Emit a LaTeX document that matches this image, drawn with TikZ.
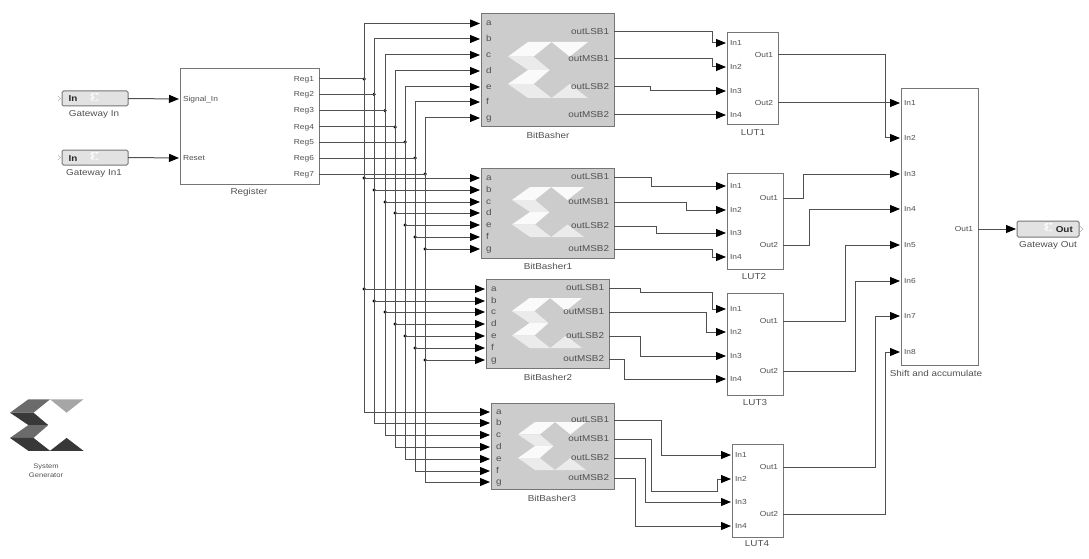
\documentclass[tikz,border=0pt]{standalone}
\usepackage{fontspec}
\setmainfont{Liberation Sans}[FakeStretch=1.15]
\usetikzlibrary{arrows.meta,calc}
\definecolor{edge}{HTML}{757575}
\definecolor{wirec}{HTML}{505050}
\definecolor{txt}{HTML}{505050}
\definecolor{blockfill}{HTML}{CCCCCC}
\definecolor{gwfill}{HTML}{E2E2E2}
\tikzset{
  wire/.style={draw=wirec,line width=1pt,-{Triangle[length=10pt,width=8pt,black]},shorten >=1pt},
  busline/.style={draw=wirec,line width=1pt},
  subsys/.style={draw=edge,line width=1pt,fill=white,anchor=north west,inner sep=0,outer sep=0},
  basher/.style={subsys,fill=blockfill},
  gateway/.style={draw=edge,line width=1pt,fill=gwfill,rounded corners=1.5pt,anchor=north west,inner sep=0,outer sep=0},
  ptl/.style={anchor=west,inner xsep=3pt,inner ysep=0,outer sep=0,text=txt,font=\fontsize{7.3}{8}\selectfont,text height=5.5pt,text depth=1pt},
  ptr/.style={ptl,anchor=east,inner xsep=5pt},
  bpl/.style={ptl,inner xsep=5pt,font=\fontsize{8.6}{9}\selectfont,text height=6.5pt,text depth=1.5pt},
  bpr/.style={bpl,anchor=east},
  blocklabel/.style={inner sep=0,text=txt,font=\fontsize{8.6}{10}\selectfont},
  jdot/.style={circle,fill=black,inner sep=0,minimum size=3.5pt,outer sep=0},
  gwtxt/.style={inner sep=0,font=\bfseries\fontsize{8.6}{9}\selectfont,text=black!85}
}
% one elbow: from, x of the vertical run, to
\newcommand{\elbow}[3]{\path[wire] let \p1=(#1),\p2=(#3) in (\p1) -- (#2pt,\y1) -- (#2pt,\y2) -- (\p2);}
% two elbows: from, x1, y of the middle run, x2, to
\newcommand{\jog}[5]{\path[wire] let \p1=(#1),\p2=(#5) in (\p1) -- (#2pt,\y1) -- (#2pt,-#3pt) -- (#4pt,-#3pt) -- (#4pt,\y2) -- (\p2);}
% logo: x0,y0,w,h, colours A B E
\newcommand{\xlogo}[7]{%
\begin{scope}[shift={(#1,#2)},x=#3pt,y=-#4pt]
\fill[#5] (0,.26)--(.25,0)--(.545,0)--(.32,.26)--cycle;
\fill[#6] (0,.26)--(.32,.26)--(.52,.5)--(.25,.5)--cycle;
\fill[#5] (0,.75)--(.25,.5)--(.52,.5)--(.32,.75)--cycle;
\fill[#6] (0,.75)--(.32,.75)--(.545,1)--(.25,1)--cycle;
\fill[#7] (.545,0)--(1,0)--(.77,.26)--cycle;
\fill[#6] (.77,.75)--(1,1)--(.545,1)--cycle;
\end{scope}}
\begin{document}
\begin{tikzpicture}[x=1pt,y=-1pt]
\useasboundingbox (0,0) rectangle (1089,559);
% Gateways
\node[gateway,minimum width=66pt,minimum height=15pt] (gi0) at (62,91) {};
\node[gateway,minimum width=66pt,minimum height=15pt] (gi1) at (62,150) {};
\node[gateway,minimum width=62pt,minimum height=16pt] (go) at (1017,221) {};
\xlogo{90}{93}{9}{8}{white!85!gwfill}{white!60!gwfill}{white!85!gwfill}
\xlogo{90}{152}{9}{8}{white!85!gwfill}{white!60!gwfill}{white!85!gwfill}
\xlogo{1044}{223}{9}{8}{white!85!gwfill}{white!60!gwfill}{white!85!gwfill}
\node[gwtxt,anchor=west] (gi0t) at (68.5,99) {In};
\node[gwtxt,anchor=west] (gi1t) at (68.5,158.5) {In};
\node[gwtxt,anchor=east] (got) at (1073,230) {Out};
\draw[gray!60,line width=.5pt] (58,96)--(60.5,98.5)--(58,101) (58,155)--(60.5,157.5)--(58,160) (1080,226)--(1083,229)--(1080,232);
\node[blocklabel] (gi0c) at (94,114) {Gateway In};
\node[blocklabel] (gi1c) at (94,173.5) {Gateway In1};
\node[blocklabel] (goc) at (1048,245) {Gateway Out};
% Register
\node[subsys,minimum width=139pt,minimum height=115pt] (reg) at (180,69) {};
\node[blocklabel] (regc) at (249,192) {Register};
\node[ptl] (rsig) at (180,99) {Signal\_In};
\node[ptl] (rrst) at (180,158) {Reset};
\foreach \n/\y in {1/79,2/94.3,3/110.7,4/127,5/142,6/158,7/174}
  \node[ptr] (r\n) at (319,\y) {Reg\n};
% BitBashers
\node[basher,minimum width=133pt,minimum height=113pt] (bb0) at (481,14) {};
\node[basher,minimum width=133pt,minimum height=90pt] (bb1) at (481,168) {};
\node[basher,minimum width=123pt,minimum height=89pt] (bb2) at (486,279) {};
\node[basher,minimum width=123pt,minimum height=86pt] (bb3) at (491,403) {};
\xlogo{508}{42}{80}{56}{white!90!blockfill}{white!60!blockfill}{white!90!blockfill}
\xlogo{512}{187}{72}{50}{white!90!blockfill}{white!60!blockfill}{white!90!blockfill}
\xlogo{512}{298}{70}{50}{white!90!blockfill}{white!60!blockfill}{white!90!blockfill}
\xlogo{518}{422}{68}{48}{white!90!blockfill}{white!60!blockfill}{white!90!blockfill}
\node[blocklabel] (bb0c) at (548,135) {BitBasher};
\node[blocklabel] (bb1c) at (548,266) {BitBasher1};
\node[blocklabel] (bb2c) at (548,377) {BitBasher2};
\node[blocklabel] (bb3c) at (552,498) {BitBasher3};
\foreach \p/\y in {a/23.5,b/39,c/55,d/71,e/87,f/102,g/118} \node[bpl] (bb0\p) at (481,\y) {\p};
\foreach \p/\y in {a/178,b/190,c/202,d/213,e/225,f/237,g/249} \node[bpl] (bb1\p) at (481,\y) {\p};
\foreach \p/\y in {a/289,b/301,c/312,d/324,e/336,f/348,g/360} \node[bpl] (bb2\p) at (486,\y) {\p};
\foreach \p/\y in {a/412,b/423,c/435,d/447,e/459,f/471,g/482} \node[bpl] (bb3\p) at (491,\y) {\p};
\foreach \b/\x/\ya/\yb/\yc/\yd in {bb0/614/32/59/87/115,bb1/614/177/202/226/249,bb2/609/288/312/336/359,bb3/614/420/439/458/478}{
  \node[bpr] (\b o1) at (\x,\ya) {outLSB1};
  \node[bpr] (\b o2) at (\x,\yb) {outMSB1};
  \node[bpr] (\b o3) at (\x,\yc) {outLSB2};
  \node[bpr] (\b o4) at (\x,\yd) {outMSB2};
}
% LUTs
\node[subsys,minimum width=51pt,minimum height=92pt] (lut1) at (727,33) {};
\node[subsys,minimum width=56pt,minimum height=96pt] (lut2) at (727,173) {};
\node[subsys,minimum width=56pt,minimum height=102pt] (lut3) at (727,293) {};
\node[subsys,minimum width=51pt,minimum height=93pt] (lut4) at (732,444) {};
\node[blocklabel] (lut1c) at (753,133) {LUT1};
\node[blocklabel] (lut2c) at (754,277) {LUT2};
\node[blocklabel] (lut3c) at (755,403) {LUT3};
\node[blocklabel] (lut4c) at (757,544) {LUT4};
\foreach \b/\xl/\xr/\ya/\yb/\yc/\yd/\oa/\ob in {1/727/778/43/67/91/115/55/103,2/727/783/186/210/233/257/198/245,3/727/783/309/332/356/379/321/371,4/732/783/455/479/502/526/467/514}{
  \node[ptl] (l\b i1) at (\xl,\ya) {In1};
  \node[ptl] (l\b i2) at (\xl,\yb) {In2};
  \node[ptl] (l\b i3) at (\xl,\yc) {In3};
  \node[ptl] (l\b i4) at (\xl,\yd) {In4};
  \node[ptr] (l\b o1) at (\xr,\oa) {Out1};
  \node[ptr] (l\b o2) at (\xr,\ob) {Out2};
}
% Shift and accumulate
\node[subsys,minimum width=77pt,minimum height=276pt] (sa) at (901,89) {};
\node[blocklabel] (sac) at (936,373) {Shift and accumulate};
\foreach \n/\y in {1/103,2/138,3/174,4/209,5/245,6/281,7/316,8/352}
  \node[ptl] (s\n) at (901,\y) {In\n};
\node[ptr] (so) at (978,229) {Out1};
% System Generator logo
\xlogo{10}{399.3}{73.5}{51.5}{black!58}{black!78}{black!35}
\node[blocklabel,font=\fontsize{6.6}{8.5}\selectfont,align=center] (sysgen) at (46,470.5) {System\\Generator};
% Inputs
\draw[wire] (gi0.east) -- (rsig.west);
\draw[wire] (gi1.east) -- (rrst.west);
% Register bus
\foreach \n/\p/\x/\yr/\ya/\yb in {1/a/364/79/178/289,2/b/374/94.3/190/301,3/c/385/110.7/202/312,4/d/395/127/213/324,5/e/405/142/225/336,6/f/415/158/237/348,7/g/425/174/249/360}{
  \node[jdot] (jr\n) at (\x,\yr) {};
  \node[jdot] (ja\n) at (\x,\ya) {};
  \node[jdot] (jb\n) at (\x,\yb) {};
  \draw[busline] (r\n.east) -- (jr\n.center);
  \draw[busline] (jr\n.center) -- (ja\n.center);
  \draw[busline] (ja\n.center) -- (jb\n.center);
  \draw[wire] (jr\n.center) |- (bb0\p.west);
  \draw[wire] (ja\n.center) -- (bb1\p.west);
  \draw[wire] (jb\n.center) -- (bb2\p.west);
  \draw[wire] (jb\n.center) |- (bb3\p.west);
}
% BitBasher to LUT
\elbow{bb0o1.east}{712}{l1i1.west}
\elbow{bb0o2.east}{712}{l1i2.west}
\elbow{bb0o3.east}{650}{l1i3.west}
\draw[wire] (bb0o4.east) -- (l1i4.west);
\elbow{bb1o1.east}{651}{l2i1.west}
\elbow{bb1o2.east}{686}{l2i2.west}
\elbow{bb1o3.east}{656}{l2i3.west}
\elbow{bb1o4.east}{712}{l2i4.west}
\jog{bb2o1.east}{640}{292}{712}{l3i1.west}
\elbow{bb2o2.east}{706}{l3i2.west}
\elbow{bb2o3.east}{640}{l3i3.west}
\elbow{bb2o4.east}{624}{l3i4.west}
\elbow{bb3o1.east}{661}{l4i1.west}
\jog{bb3o2.east}{651}{491}{717}{l4i2.west}
\elbow{bb3o3.east}{645}{l4i3.west}
\elbow{bb3o4.east}{635}{l4i4.west}
% LUT to Shift
\elbow{l1o1.east}{885}{s2.west}
\draw[wire] (l1o2.east) -- (s1.west);
\elbow{l2o1.east}{803}{s3.west}
\elbow{l2o2.east}{809}{s4.west}
\elbow{l3o1.east}{845}{s5.west}
\elbow{l3o2.east}{855}{s6.west}
\elbow{l4o1.east}{875}{s7.west}
\elbow{l4o2.east}{885}{s8.west}
\draw[wire] (so.east) -- (go.west);
\end{tikzpicture}
\end{document}
